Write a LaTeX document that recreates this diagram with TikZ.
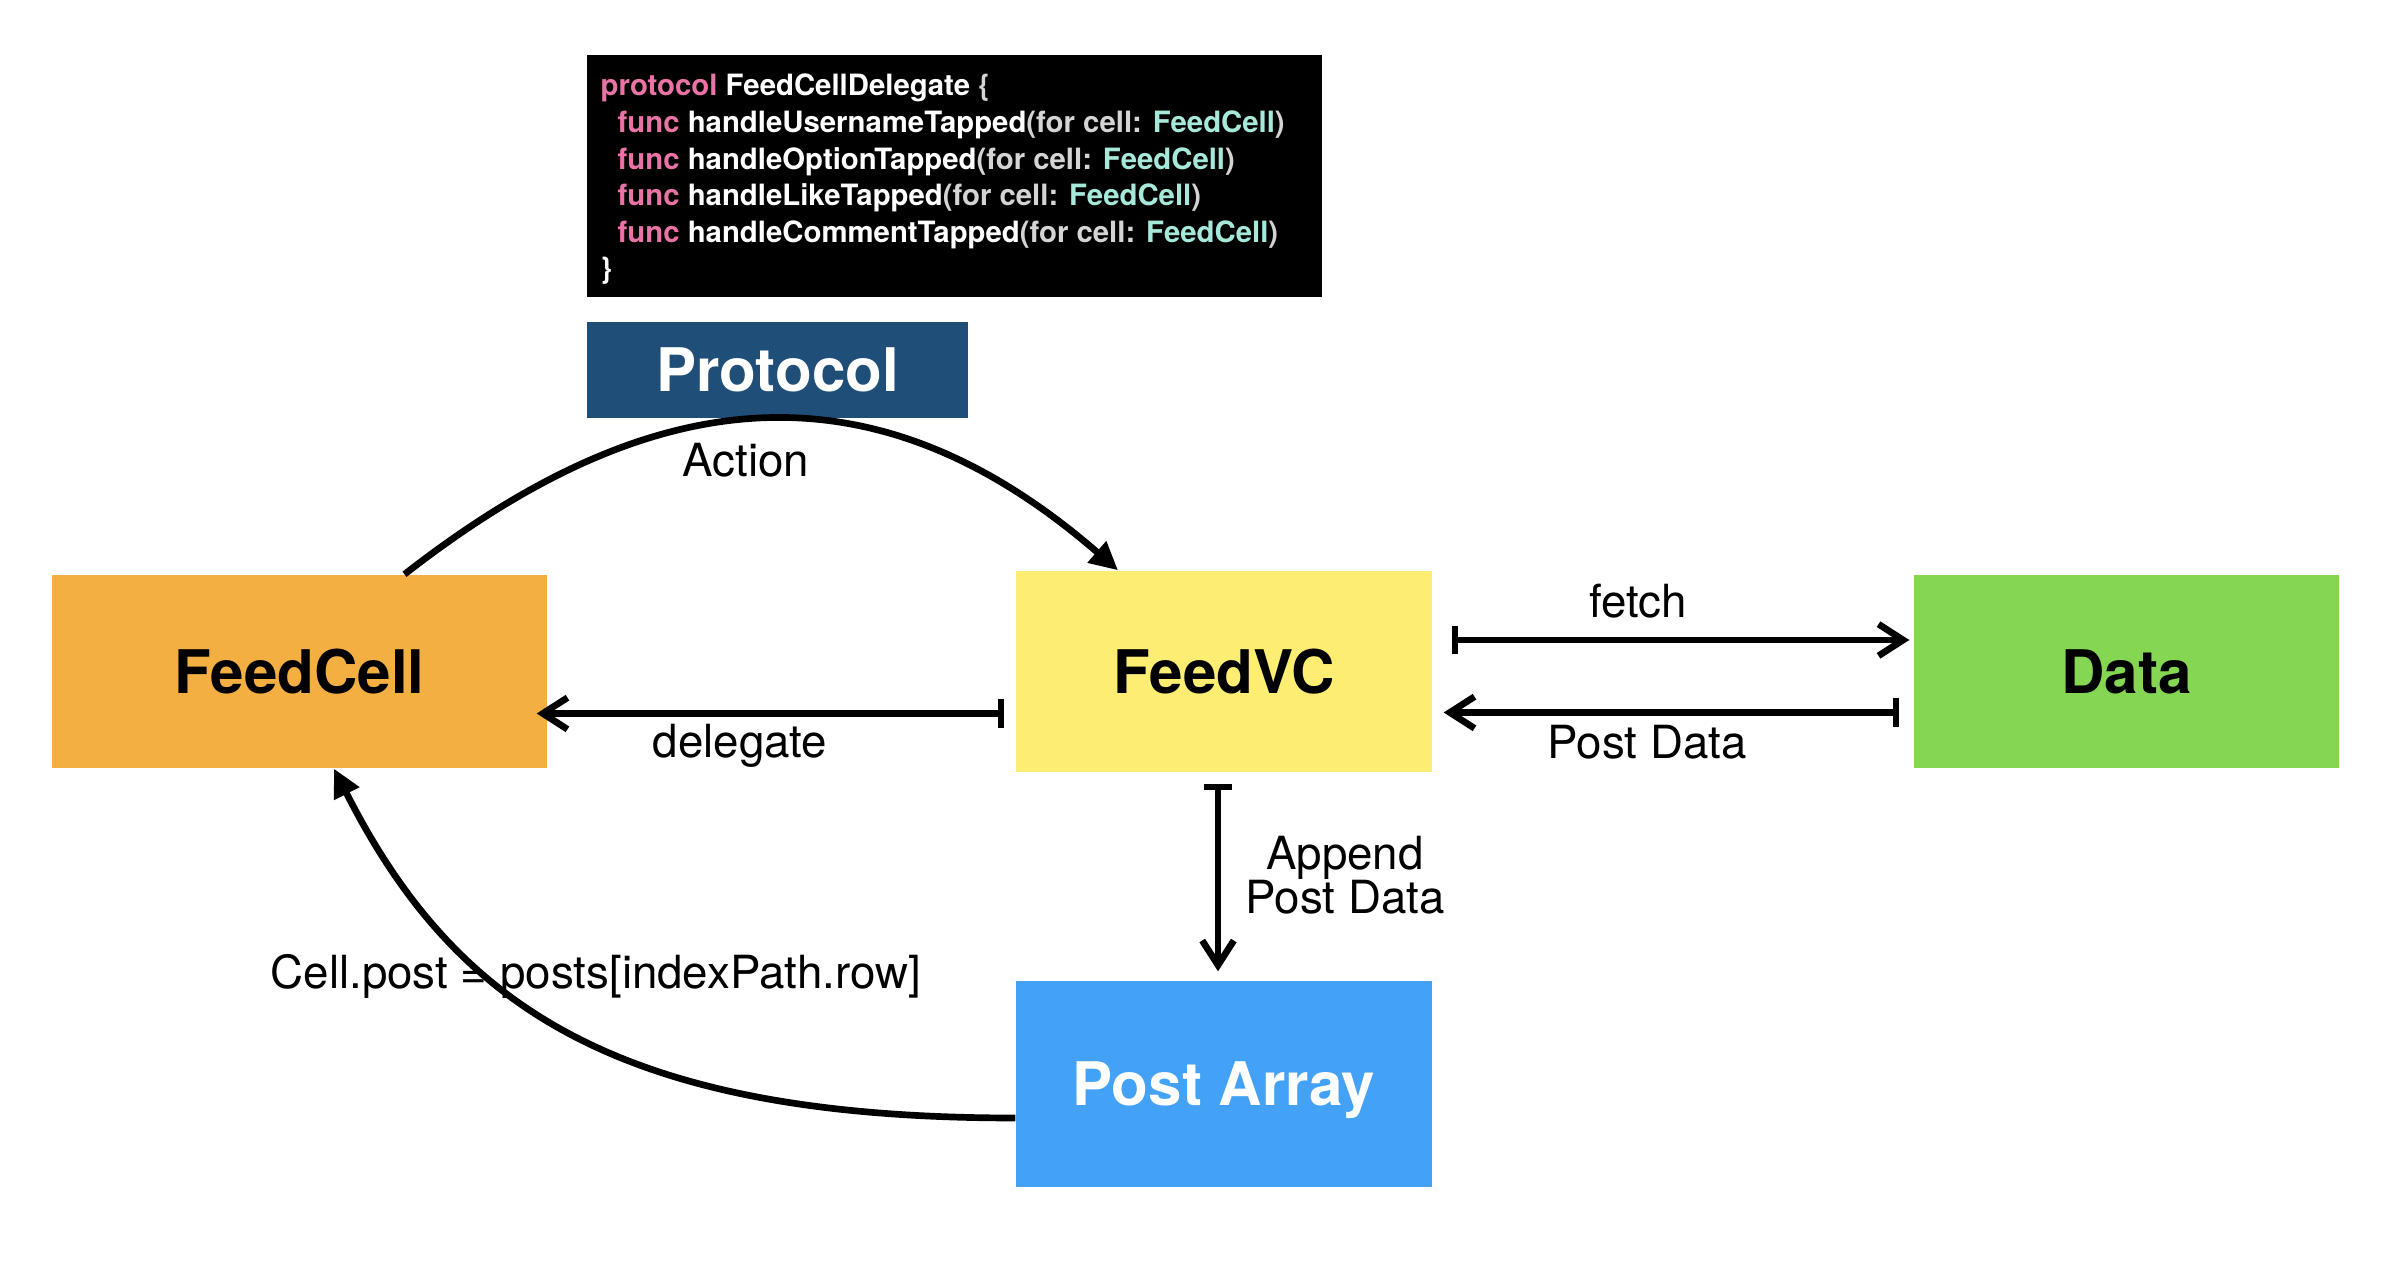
\documentclass[tikz,border=0pt]{standalone}
\usepackage{fontspec}
\setmainfont{TeX Gyre Heros}
\usetikzlibrary{arrows.meta}

\definecolor{cellorange}{RGB}{243,175,65}
\definecolor{vcyellow}{RGB}{253,238,115}
\definecolor{datagreen}{RGB}{132,214,83}
\definecolor{postblue}{RGB}{68,162,246}
\definecolor{protoblue}{RGB}{31,78,121}
\definecolor{kwpink}{RGB}{234,115,165}
\definecolor{argrey}{RGB}{212,212,212}
\definecolor{typemint}{RGB}{166,232,217}

\newcommand{\tapfunc}[1]{\hspace*{0.17cm}\textcolor{kwpink}{func} #1\textcolor{argrey}{(for cell:} \textcolor{typemint}{FeedCell}\textcolor{argrey}{)}}

\tikzset{
  block/.style={inner sep=0pt, font=\fontsize{17.1}{20}\selectfont\bfseries},
  lbl/.style={inner sep=0pt, font=\fontsize{13}{15}\selectfont},
  link/.style={line width=1.9pt, {Bar[width=8.2pt]}-{Straight Barb[length=7pt,width=9pt]}},
  flow/.style={line width=1.9pt, -{Triangle[length=8pt,width=7.7pt]}},
}

\begin{document}
\begin{tikzpicture}
\useasboundingbox (0,0) rectangle (23.9,-12.74);

\node[fill=black, minimum width=7.35cm, minimum height=2.42cm, inner sep=0pt] (codebox) at (9.545, -1.76) {};
\node[anchor=north west, inner sep=0pt, align=left, text=white, font=\fontsize{8.35}{10.4}\selectfont\bfseries] (code) at (6.00, -0.735)
  {\textcolor{kwpink}{protocol} FeedCellDelegate \textcolor{argrey}{\{}\\
   \tapfunc{handleUsernameTapped}\\
   \tapfunc{handleOptionTapped}\\
   \tapfunc{handleLikeTapped}\\
   \tapfunc{handleCommentTapped}\\
   \}};

\node[block, fill=protoblue, text=white, minimum width=3.81cm, minimum height=0.96cm] (proto) at (7.775, -3.70) {Protocol};

\node[block, fill=cellorange, minimum width=4.95cm, minimum height=1.93cm] (cell) at (2.995, -6.715) {FeedCell};
\node[block, fill=vcyellow, minimum width=4.16cm, minimum height=2.01cm] (vc) at (12.24, -6.715) {FeedVC};
\node[block, fill=datagreen, minimum width=4.25cm, minimum height=1.93cm] (data) at (21.265, -6.715) {Data};
\node[block, fill=postblue, text=white, text depth=0pt, minimum width=4.16cm, minimum height=2.06cm] (post) at (12.24, -10.84) {Post Array};

\node[lbl] (action) at (7.46, -4.60) {Action};
\node[lbl] (dlg) at (7.40, -7.46) {delegate};
\node[lbl] (fetch) at (16.38, -6.01) {fetch};
\node[lbl] (postdata) at (16.47, -7.42) {Post Data};
\node[lbl, align=center, font=\fontsize{13}{12.5}\selectfont] (append) at (13.45, -8.75) {Append\\Post Data};
\node[lbl, anchor=base west] (assign) at (2.70, -9.88) {Cell.post = posts[indexPath.row]};

\draw[flow] ([xshift=1.05cm]cell.north) .. controls +(2.31,1.80) and +(-2.58,2.24) .. ([xshift=-1.06cm]vc.north);
\draw[link] ([xshift=-0.11cm,yshift=-0.42cm]vc.west) -- ([xshift=-0.11cm,yshift=-0.42cm]cell.east);
\draw[link] ([xshift=0.19cm,yshift=0.315cm]vc.east) -- ([xshift=-0.04cm,yshift=0.315cm]data.west);
\draw[link] ([xshift=-0.14cm,yshift=-0.41cm]data.west) -- ([xshift=0.11cm,yshift=-0.41cm]vc.east);
\draw[link] ([xshift=-0.06cm,yshift=-0.11cm]vc.south) -- ([xshift=-0.06cm,yshift=0.09cm]post.north);
\draw[flow] ([yshift=-0.34cm]post.west) .. controls +(-4.0,0) and +(1.2,-2.36) .. ([xshift=0.345cm]cell.south);
\end{tikzpicture}
\end{document}
